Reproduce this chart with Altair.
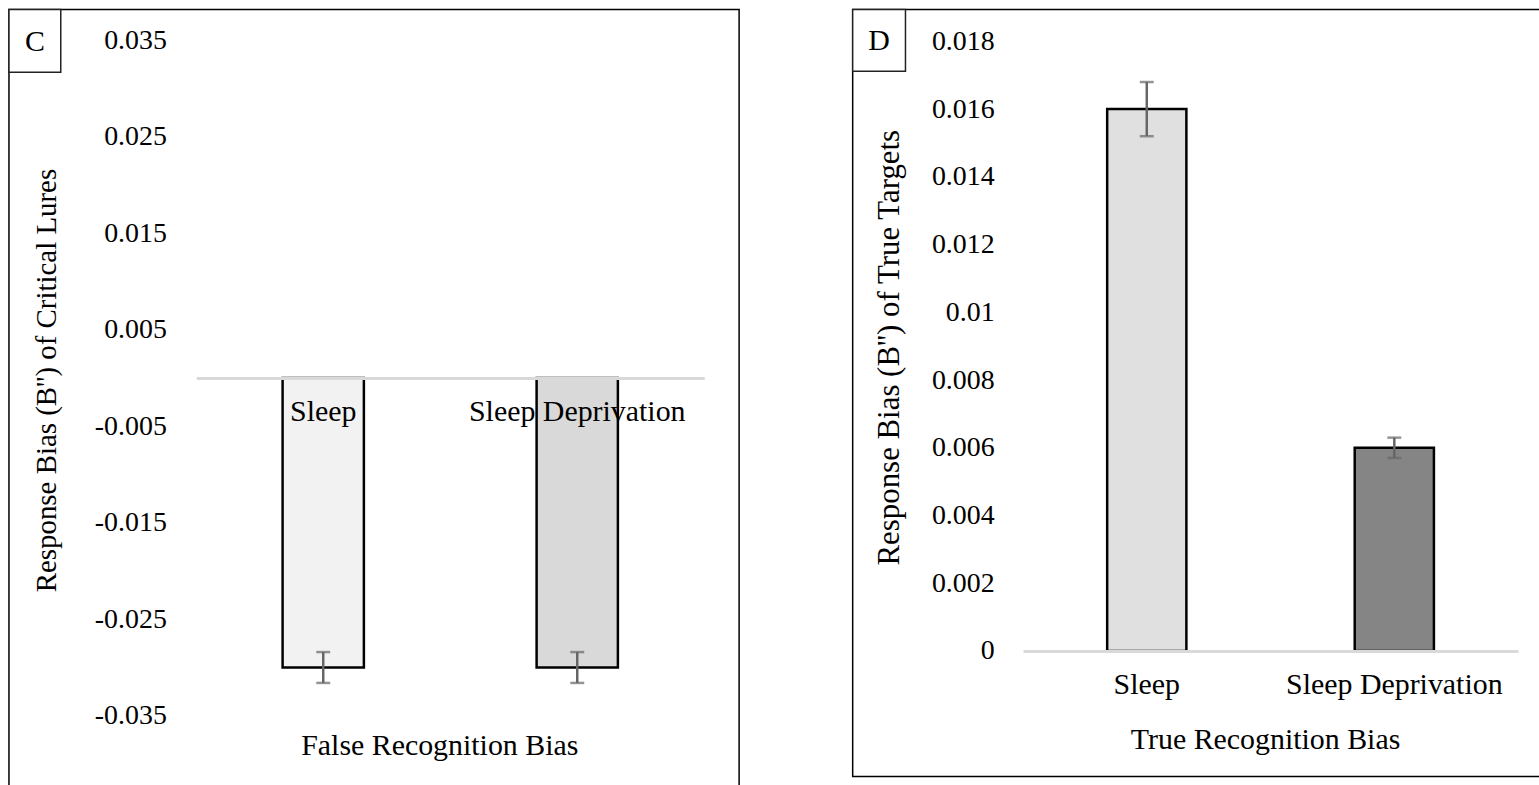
import altair as alt
import pandas as pd

# ---- data ----
cats = ["Sleep", "Sleep Deprivation"]
false_vals = [-0.030, -0.030]
false_err = [0.0016, 0.0016]
true_vals = [0.016, 0.006]
true_err = [0.0008, 0.0003]
c_ticks = [-0.035, -0.025, -0.015, -0.005, 0.005, 0.015, 0.025, 0.035]
d_ticks = [0, 0.002, 0.004, 0.006, 0.008, 0.01, 0.012, 0.014, 0.016, 0.018]
c_fills = ["#f2f2f2", "#d9d9d9"]
d_fills = ["#e0e0e0", "#858585"]

FONT = "Liberation Serif"
FS_TICK = 28
FS_CAT = 30
FS_XT = 30


def panel(letter, vals, errs, fills, ticks, ydom, yrange, xrange, vw, vh,
          ytitle, xtitle, ylab_x, ytitle_x, ytitle_y, zero_rel, xtitle_x, xtitle_y,
          label_expr, box_w, box_h, fs_yt):
    df = pd.DataFrame({
        "cat": cats,
        "v": vals,
        "lo": [v - e for v, e in zip(vals, errs)],
        "hi": [v + e for v, e in zip(vals, errs)],
    })
    xscale = alt.Scale(domain=cats, range=xrange, paddingInner=0.68, paddingOuter=0.34)
    yscale = alt.Scale(domain=ydom, range=yrange, nice=False, zero=False)

    yaxis = alt.Axis(
        values=ticks, labelExpr=label_expr, offset=-ylab_x, domain=False, ticks=False,
        grid=False, labelPadding=2, labelFontSize=FS_TICK, labelFont=FONT, labelColor="black",
        labelOverlap=False, labelFlush=False, labelLimit=0,
        title=ytitle, titleX=ytitle_x, titleY=ytitle_y, titleBaseline="middle",
        titleAngle=270, titleFont=FONT, titleFontSize=fs_yt, titleFontWeight="normal",
        titleColor="black", titleAlign="center", titleLimit=0,
    )
    xaxis = alt.Axis(
        orient="bottom", offset=-(vh - zero_rel), domain=True, domainColor="#d9d9d9",
        domainWidth=3, ticks=False, labelPadding=19, labelAngle=0, labelFontSize=FS_CAT,
        labelFont=FONT, labelColor="black", labelOverlap=False, labelLimit=0,
        title=xtitle, titleX=xtitle_x, titleY=xtitle_y, titleBaseline="middle",
        titleFont=FONT, titleFontSize=FS_XT, titleFontWeight="normal", titleColor="black",
        titleAlign="center", titleLimit=0, zindex=1,
    )

    base = alt.Chart(df)
    x_enc = alt.X("cat:N", sort=cats, scale=xscale, axis=xaxis, title=xtitle)
    bars = base.mark_bar(stroke="black", strokeWidth=2.5).encode(
        x=x_enc,
        y=alt.Y("v:Q", scale=yscale, axis=yaxis, title=ytitle),
        y2=alt.datum(0),
        fill=alt.Fill("cat:N", scale=alt.Scale(domain=cats, range=fills), legend=None),
    )
    rule = base.mark_rule(color="#666666", strokeWidth=2.5).encode(
        x=x_enc,
        y=alt.Y("lo:Q", scale=yscale, axis=yaxis, title=ytitle),
        y2="hi:Q",
    )
    cap_lo = base.mark_tick(color="#666666", size=14, thickness=2.5).encode(
        x=x_enc,
        y=alt.Y("lo:Q", scale=yscale, axis=yaxis, title=ytitle),
    )
    cap_hi = base.mark_tick(color="#666666", size=14, thickness=2.5).encode(
        x=x_enc,
        y=alt.Y("hi:Q", scale=yscale, axis=yaxis, title=ytitle),
    )
    lab = alt.Chart(pd.DataFrame({"t": [letter]}))
    box = lab.mark_rect(fill="white", stroke="#222222", strokeWidth=1.5).encode(
        x=alt.value(0), x2=alt.value(box_w), y=alt.value(0), y2=alt.value(box_h)
    )
    txt = lab.mark_text(font=FONT, fontSize=30, color="black", align="center",
                        baseline="middle").encode(
        x=alt.value(box_w / 2), y=alt.value(box_h / 2 + 1), text="t:N"
    )
    return alt.layer(bars, rule, cap_lo, cap_hi, box, txt).properties(width=vw, height=vh)


c = panel(
    "C", false_vals, false_err, c_fills, c_ticks, [-0.035, 0.035], [709, 31], [188, 698],
    733, 789, "Response Bias (B'') of Critical Lures", "False Recognition Bias",
    160, -122, 372, 370, 432, 369,
    "replace(format(datum.value, '.3f'), '\u2212', '-')", 52, 63, 29,
)
d = panel(
    "D", true_vals, true_err, d_fills, d_ticks, [0, 0.018], [644, 32], [171, 668],
    700, 770, "Response Bias (B'') of True Targets", "True Recognition Bias",
    144, -107, 339, 644, 414, 89,
    "format(datum.value, '~g')", 53, 62, 31,
)

chart = alt.hconcat(c, d, spacing=111).resolve_scale(fill="independent").properties(
    padding={"left": 7, "top": 6, "right": -12, "bottom": -10},
    background="white",
).configure_view(stroke="black", strokeWidth=1.5)

chart.save("out.html", embed_options={"renderer": "svg", "actions": False})
